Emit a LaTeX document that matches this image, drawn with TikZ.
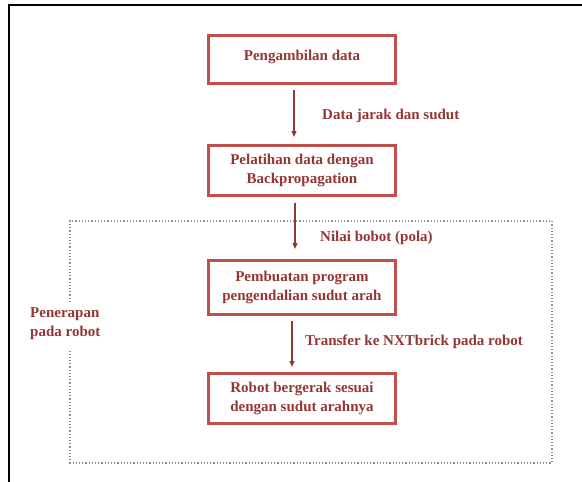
\documentclass[tikz,border=0pt]{standalone}
\usepackage{fontspec}
\setmainfont{Liberation Serif}
\usetikzlibrary{arrows.meta,positioning,calc}
\definecolor{bc}{RGB}{192,80,77}
\definecolor{tc}{RGB}{148,54,52}
\definecolor{dc}{RGB}{150,138,140}
\tikzset{box/.style={draw=bc,line width=3pt,minimum width=187pt,text=tc,align=center,inner sep=0pt},
 lbl/.style={anchor=west,text=tc,align=left,inner sep=0pt},
 arr/.style={-{Triangle[length=6pt,width=5pt]},draw=tc,line width=1.2pt},
 every node/.style={font=\fontsize{15}{19}\selectfont\bfseries}}
\begin{document}
\begin{tikzpicture}[x=1pt,y=-1pt]
\useasboundingbox (0,0) rectangle (582,482);
\draw[line width=2pt] (8.5,482) -- (8.5,5) -- (582,5);
% kotak penerapan
\draw[dc,dotted,line width=1.2pt] (70,302) -- (70,221) -- (552,221) -- (552,463) -- (70,463) -- (70,351);
\node[lbl] (terap) at (30,324) {Penerapan\\pada robot};
\node[box,minimum height=48pt] (ambil) at (302,59.5) {\raisebox{8pt}{Pengambilan data}};
\node[box,minimum height=50pt] (latih) at (302,170.5) {Pelatihan data dengan\\Backpropagation};
\node[box,minimum height=54pt] (buat) at (302,287.5) {Pembuatan program\\pengendalian sudut arah};
\node[box,minimum height=50pt] (gerak) at (302,398.5) {Robot bergerak sesuai\\dengan sudut arahnya};
\draw[arr] ([xshift=-8pt,yshift=-5pt]ambil.south) -- ([xshift=-8pt,yshift=7pt]latih.north);
\draw[arr] ([xshift=-7pt,yshift=-6pt]latih.south) -- ([xshift=-7pt,yshift=10pt]buat.north);
\draw[arr] ([xshift=-10pt,yshift=-5pt]buat.south) -- ([xshift=-10pt,yshift=5pt]gerak.north);
\node[lbl] (jarak) at (322,116) {Data jarak dan sudut};
\node[lbl] (bobot) at (320,238) {Nilai bobot (pola)};
\node[lbl] (nxt) at (305,342) {Transfer ke NXTbrick pada robot};
\end{tikzpicture}
\end{document}
